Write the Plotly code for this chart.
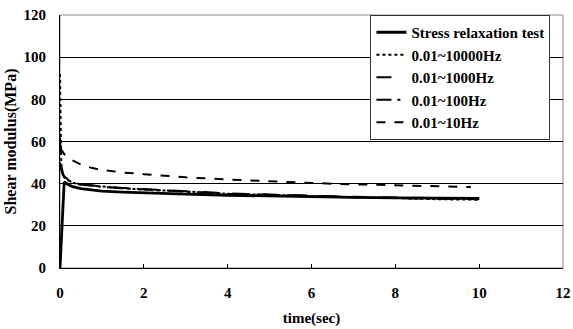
import plotly.graph_objects as go

# Stress relaxation test
t_sr = [0, 0.1, 0.2, 0.3, 0.5, 0.75, 1, 1.5, 2, 3, 4, 5, 6, 7, 8, 9, 10]
g_sr = [0, 40.8, 39.5, 38.6, 37.6, 37.0, 36.5, 36.0, 35.6, 35.0, 34.5, 34.1, 33.8, 33.5, 33.3, 33.1, 33.0]

# Prony-series model curves
t_m = [0, 0.01, 0.03, 0.06, 0.1, 0.2, 0.3, 0.5, 0.75, 1, 1.5, 2, 2.5, 3, 3.5, 4, 5, 6, 7, 8, 9, 10]
g_10000 = [92, 62, 50, 45, 43, 41.5, 40.5, 39.5, 39, 38.5, 37.8, 37.2, 36.8, 36.2, 35.8, 35.2, 34.6, 34.0, 33.6, 33.2, 32.6, 32.4]
g_1000 = [62, 55, 49, 45.5, 43.5, 41.8, 40.8, 39.8, 39.2, 38.7, 38.0, 37.4, 37.0, 36.4, 35.9, 35.4, 34.8, 34.2, 33.8, 33.4, 33.0, 32.8]
g_100 = [50, 48.5, 46.5, 44.5, 43, 41.5, 40.6, 39.6, 39.0, 38.5, 37.8, 37.2, 36.8, 36.2, 35.7, 35.2, 34.6, 34.0, 33.6, 33.2, 32.8, 32.6]
t_10 = [0, 0.05, 0.1, 0.2, 0.3, 0.5, 0.75, 1, 1.5, 2, 3, 4, 5, 6, 7, 8, 9, 9.8]
g_10 = [57, 55.5, 54, 52.5, 51, 49, 47.5, 46.5, 45.3, 44.5, 43, 42, 41, 40.3, 39.7, 39.2, 38.8, 38.4]

names = ["Stress relaxation test", "0.01~10000Hz", "0.01~1000Hz", "0.01~100Hz", "0.01~10Hz"]

fig = go.Figure()
fig.add_trace(go.Scatter(x=t_sr, y=g_sr, mode="lines", name=names[0],
                         line=dict(color="black", width=2.8)))
fig.add_trace(go.Scatter(x=t_m, y=g_10000, mode="lines", name=names[1],
                         line=dict(color="black", width=2, dash="dot")))
fig.add_trace(go.Scatter(x=t_m, y=g_1000, mode="lines", name=names[2],
                         line=dict(color="black", width=2, dash="longdash")))
fig.add_trace(go.Scatter(x=t_m, y=g_100, mode="lines", name=names[3],
                         line=dict(color="black", width=2, dash="longdashdot")))
fig.add_trace(go.Scatter(x=t_10, y=g_10, mode="lines", name=names[4],
                         line=dict(color="black", width=2, dash="dash")))

font = "Liberation Serif"
fig.update_layout(
    width=573, height=329,
    margin=dict(l=60, r=10, t=15, b=61, autoexpand=False),
    paper_bgcolor="white", plot_bgcolor="white",
    font=dict(family=font, color="black"),
    showlegend=True,
    legend=dict(x=0.975, y=1.0, xanchor="right", yanchor="top",
                bordercolor="#333333", borderwidth=1, bgcolor="white",
                font=dict(family=font, size=15, weight="bold"),
                tracegroupgap=0, itemwidth=30),
    shapes=[dict(type="rect", xref="paper", yref="paper", x0=0, y0=0, x1=1, y1=1,
                 line=dict(color="#888888", width=1), layer="below")],
)
fig.update_xaxes(range=[0, 12], tickvals=[0, 2, 4, 6, 8, 10, 12], automargin=False,
                 showgrid=False, zeroline=False, showline=True, linecolor="black", linewidth=1,
                 ticks="inside", ticklen=4, tickcolor="black", ticklabelstandoff=11,
                 tickfont=dict(family=font, size=15, weight="bold"),
                 title=dict(text="time(sec)", font=dict(family=font, size=15, weight="bold"), standoff=12))
fig.update_yaxes(range=[0, 120], tickvals=[0, 20, 40, 60, 80, 100, 120], automargin=False,
                 showgrid=True, gridcolor="black", gridwidth=1, zeroline=False,
                 showline=True, linecolor="black", linewidth=1, ticklabelstandoff=10,
                 tickfont=dict(family=font, size=15, weight="bold"),
                 title=dict(text="Shear modulus(MPa)", font=dict(family=font, size=16, weight="bold"), standoff=2))

fig.write_html("out.html")
